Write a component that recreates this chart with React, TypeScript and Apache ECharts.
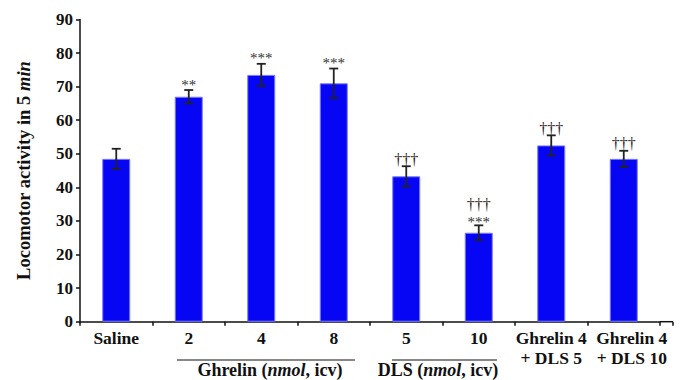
import React, { useEffect, useRef } from "react";
import * as echarts from "echarts";

const categories = ["Saline", "2", "4", "8", "5", "10", "Ghrelin 4\n+ DLS 5", "Ghrelin 4\n+ DLS 10"];
const means = [48.5, 67, 73.5, 71, 43.3, 26.5, 52.5, 48.5];
const sems = [3, 2, 3.3, 4.4, 3, 2.2, 3, 2.4];
const daggers = ["", "", "", "", "†††", "†††", "†††", "†††"];
const stars = ["", "**", "***", "***", "", "***", "", ""];
const yTicks = { min: 0, max: 90, interval: 10 };

const SERIF = "'Liberation Serif', 'Times New Roman', serif";

export default function App() {
  const ref = useRef<HTMLDivElement>(null);
  useEffect(() => {
    if (!ref.current) return;
    const chart = echarts.init(ref.current, null, { renderer: "svg" });
    const errData = categories.map((c, i) => [i, means[i], sems[i]]);
    const catData = categories.map((c, i) =>
      i === categories.length - 1 ? { value: c, textStyle: { padding: [0, 0, 0, 16] } } : c
    );
    chart.setOption({
      animation: false,
      grid: { left: 80, right: 26, top: 19.5, bottom: 58.3 },
      xAxis: {
        type: "category",
        data: catData,
        axisLine: { lineStyle: { color: "#111", width: 1.5 } },
        axisTick: { show: true, length: 4, lineStyle: { color: "#111", width: 1.5 } },
        axisLabel: {
          interval: 0,
          color: "#111",
          fontFamily: SERIF,
          fontWeight: "bold",
          fontSize: 17.5,
          lineHeight: 20,
          margin: 6,
        },
      },
      yAxis: {
        type: "value",
        min: yTicks.min,
        max: yTicks.max,
        interval: yTicks.interval,
        name: "{a|Locomotor activity in 5 }{b|min}",
        nameLocation: "middle",
        nameRotate: 90,
        nameGap: 47,
        nameTextStyle: {
          rich: {
            a: { fontFamily: SERIF, fontWeight: "bold", fontSize: 18.5, color: "#111" },
            b: { fontFamily: SERIF, fontWeight: "bold", fontStyle: "italic", fontSize: 18.5, color: "#111" },
          },
        },
        splitLine: { show: false },
        axisLine: { show: true, lineStyle: { color: "#111", width: 1.5 } },
        axisTick: { show: true, length: 4, lineStyle: { color: "#111", width: 1.5 } },
        axisLabel: {
          color: "#111",
          fontFamily: SERIF,
          fontWeight: "bold",
          fontSize: 17,
          margin: 7,
        },
      },
      series: [
        {
          type: "bar",
          data: means,
          barWidth: 28,
          itemStyle: { color: "#0606f4", borderColor: "#7a7aff", borderWidth: 1 },
        },
        {
          type: "custom",
          data: errData,
          z: 5,
          renderItem: (params: any, api: any) => {
            const idx = api.value(0);
            const v = api.value(1);
            const e = api.value(2);
            const top = api.coord([idx, v + e]);
            const bot = api.coord([idx, v - e]);
            const cap = 4.5;
            const style = { stroke: "#222", lineWidth: 1.8 };
            const children: any[] = [
              { type: "line", shape: { x1: top[0], y1: top[1], x2: bot[0], y2: bot[1] }, style },
              { type: "line", shape: { x1: top[0] - cap, y1: top[1], x2: top[0] + cap, y2: top[1] }, style },
              { type: "line", shape: { x1: bot[0] - cap, y1: bot[1], x2: bot[0] + cap, y2: bot[1] }, style },
            ];
            const s = stars[params.dataIndex];
            const d = daggers[params.dataIndex];
            let y = top[1] + 1;
            if (s) {
              const sy = d ? top[1] + 4 : top[1] + 2;
              children.push({
                type: "text",
                x: top[0],
                y: sy,
                style: {
                  text: s,
                  align: "center",
                  verticalAlign: "bottom",
                  fontFamily: SERIF,
                  fontSize: 15,
                  fill: "#333",
                },
              });
              y = sy - 17;
            }
            if (d) {
              children.push({
                type: "text",
                x: top[0],
                y: y,
                style: {
                  text: d,
                  align: "center",
                  verticalAlign: "bottom",
                  fontFamily: SERIF,
                  fontSize: 16,
                  fill: "#2d2020",
                },
              });
            }
            return { type: "group", children };
          },
        },
      ],
      graphic: [
        { type: "line", shape: { x1: 660, y1: 321.7, x2: 673, y2: 321.7 }, style: { stroke: "#111", lineWidth: 1.5 } },
        { type: "line", shape: { x1: 673, y1: 321.7, x2: 673, y2: 325.7 }, style: { stroke: "#111", lineWidth: 1.5 } },
        { type: "line", shape: { x1: 177, y1: 360, x2: 355, y2: 360 }, style: { stroke: "#111", lineWidth: 1.2 } },
        { type: "line", shape: { x1: 392, y1: 360, x2: 497, y2: 360 }, style: { stroke: "#111", lineWidth: 1.2 } },
        {
          type: "text",
          x: 270,
          y: 370,
          style: {
            text: "{a|Ghrelin (}{b|nmol}{a|, icv)}",
            align: "center",
            verticalAlign: "middle",
            rich: {
              a: { fontFamily: SERIF, fontWeight: "bold", fontSize: 18, fill: "#111" },
              b: { fontFamily: SERIF, fontWeight: "bold", fontStyle: "italic", fontSize: 18, fill: "#111" },
            },
          },
        },
        {
          type: "text",
          x: 438,
          y: 370,
          style: {
            text: "{a|DLS (}{b|nmol}{a|, icv)}",
            align: "center",
            verticalAlign: "middle",
            rich: {
              a: { fontFamily: SERIF, fontWeight: "bold", fontSize: 18, fill: "#111" },
              b: { fontFamily: SERIF, fontWeight: "bold", fontStyle: "italic", fontSize: 18, fill: "#111" },
            },
          },
        },
      ],
    });
    return () => chart.dispose();
  }, []);
  return <div ref={ref} style={{ width: 686, height: 380, position: "absolute", left: 0, top: 0 }} />;
}
